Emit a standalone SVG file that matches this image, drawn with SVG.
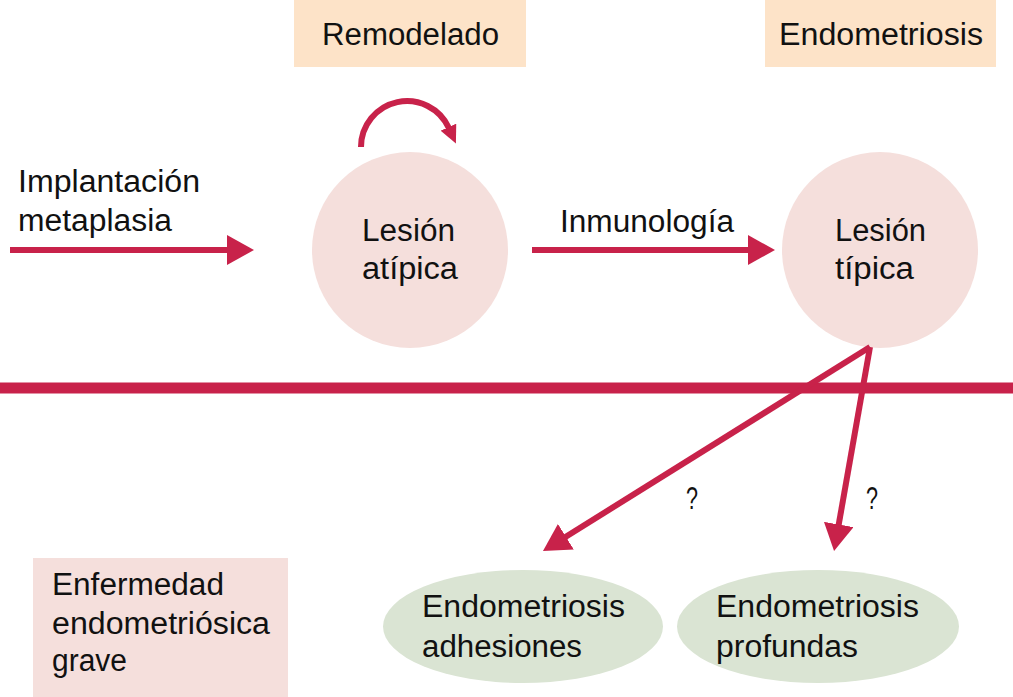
<svg xmlns="http://www.w3.org/2000/svg" width="1013" height="697" viewBox="0 0 1013 697">
<style>
  text { font-family: "Liberation Sans", Arial, sans-serif; font-size: 31px; fill: #111; }
  .q { font-size: 31px; }
  .conn { stroke: #c8224a; stroke-width: 6; fill: none; }
  .peach { fill: #fde3c8; }
  .pink { fill: #f5dfdc; }
  .green { fill: #dae4d3; }
</style>
<defs>
  <marker id="ah" markerUnits="userSpaceOnUse" markerWidth="27" markerHeight="30" viewBox="0 0 27 30" refX="10" refY="15" orient="auto">
    <path d="M0,0 L27,15 L0,30 z" fill="#c8224a"/>
  </marker>
  <marker id="ahs" markerUnits="userSpaceOnUse" markerWidth="18" markerHeight="17" viewBox="0 0 18 17" refX="1" refY="8.5" orient="auto">
    <path d="M0,0 L18,8.5 L0,17 z" fill="#c8224a"/>
  </marker>
</defs>
<rect width="1013" height="697" fill="#ffffff"/>

<g id="remodelado">
  <rect class="peach" x="294" y="0" width="232" height="67"/>
  <text x="322" y="45" textLength="177" lengthAdjust="spacingAndGlyphs">Remodelado</text>
</g>
<g id="endometriosis-top">
  <rect class="peach" x="765" y="0" width="231" height="67"/>
  <text x="779" y="45" textLength="204" lengthAdjust="spacingAndGlyphs">Endometriosis</text>
</g>
<g id="implantacion">
  <text x="18" y="192" textLength="182" lengthAdjust="spacingAndGlyphs">Implantación</text>
  <text x="18" y="231" textLength="154" lengthAdjust="spacingAndGlyphs">metaplasia</text>
</g>
<g id="lesion-atipica">
  <circle class="pink" cx="410" cy="250" r="98"/>
  <text x="362" y="241" textLength="93" lengthAdjust="spacingAndGlyphs">Lesión</text>
  <text x="362" y="279" textLength="96" lengthAdjust="spacingAndGlyphs">atípica</text>
</g>
<g id="lesion-tipica">
  <circle class="pink" cx="880" cy="250" r="98"/>
  <text x="835" y="241" textLength="91" lengthAdjust="spacingAndGlyphs">Lesión</text>
  <text x="835" y="279" textLength="79" lengthAdjust="spacingAndGlyphs">típica</text>
</g>
<g id="inmunologia-label">
  <text x="560" y="232" textLength="174" lengthAdjust="spacingAndGlyphs">Inmunología</text>
</g>
<g id="enfermedad">
  <rect class="pink" x="33" y="558" width="255" height="139"/>
  <text x="52" y="595" textLength="172" lengthAdjust="spacingAndGlyphs">Enfermedad</text>
  <text x="52" y="634" textLength="218" lengthAdjust="spacingAndGlyphs">endometriósica</text>
  <text x="52" y="671" textLength="75" lengthAdjust="spacingAndGlyphs">grave</text>
</g>
<g id="adhesiones">
  <ellipse class="green" cx="523" cy="626.5" rx="140" ry="56.5"/>
  <text x="422" y="617" textLength="203" lengthAdjust="spacingAndGlyphs">Endometriosis</text>
  <text x="422" y="657" textLength="160" lengthAdjust="spacingAndGlyphs">adhesiones</text>
</g>
<g id="profundas">
  <ellipse class="green" cx="818" cy="626.5" rx="141" ry="56.5"/>
  <text x="716" y="617" textLength="203" lengthAdjust="spacingAndGlyphs">Endometriosis</text>
  <text x="716" y="657" textLength="142" lengthAdjust="spacingAndGlyphs">profundas</text>
</g>

<g id="connectors">
  <rect x="0" y="382.5" width="1013" height="11" fill="#c8224a"/>
  <line class="conn" x1="10" y1="250" x2="237" y2="250" marker-end="url(#ah)"/>
  <line class="conn" x1="532" y1="250" x2="758" y2="250" marker-end="url(#ah)"/>
  <path class="conn" stroke-width="3.5" d="M361,147 A46,46 0 0 1 448.9,128.1" marker-end="url(#ahs)"/>
  <line class="conn" x1="870" y1="347" x2="557.4" y2="542" marker-end="url(#ah)"/>
  <line class="conn" x1="870" y1="347" x2="837" y2="534.3" marker-end="url(#ah)"/>
  <text class="q" x="686" y="509" textLength="12" lengthAdjust="spacingAndGlyphs">?</text>
  <text class="q" x="866" y="509" textLength="12" lengthAdjust="spacingAndGlyphs">?</text>
</g>
</svg>
